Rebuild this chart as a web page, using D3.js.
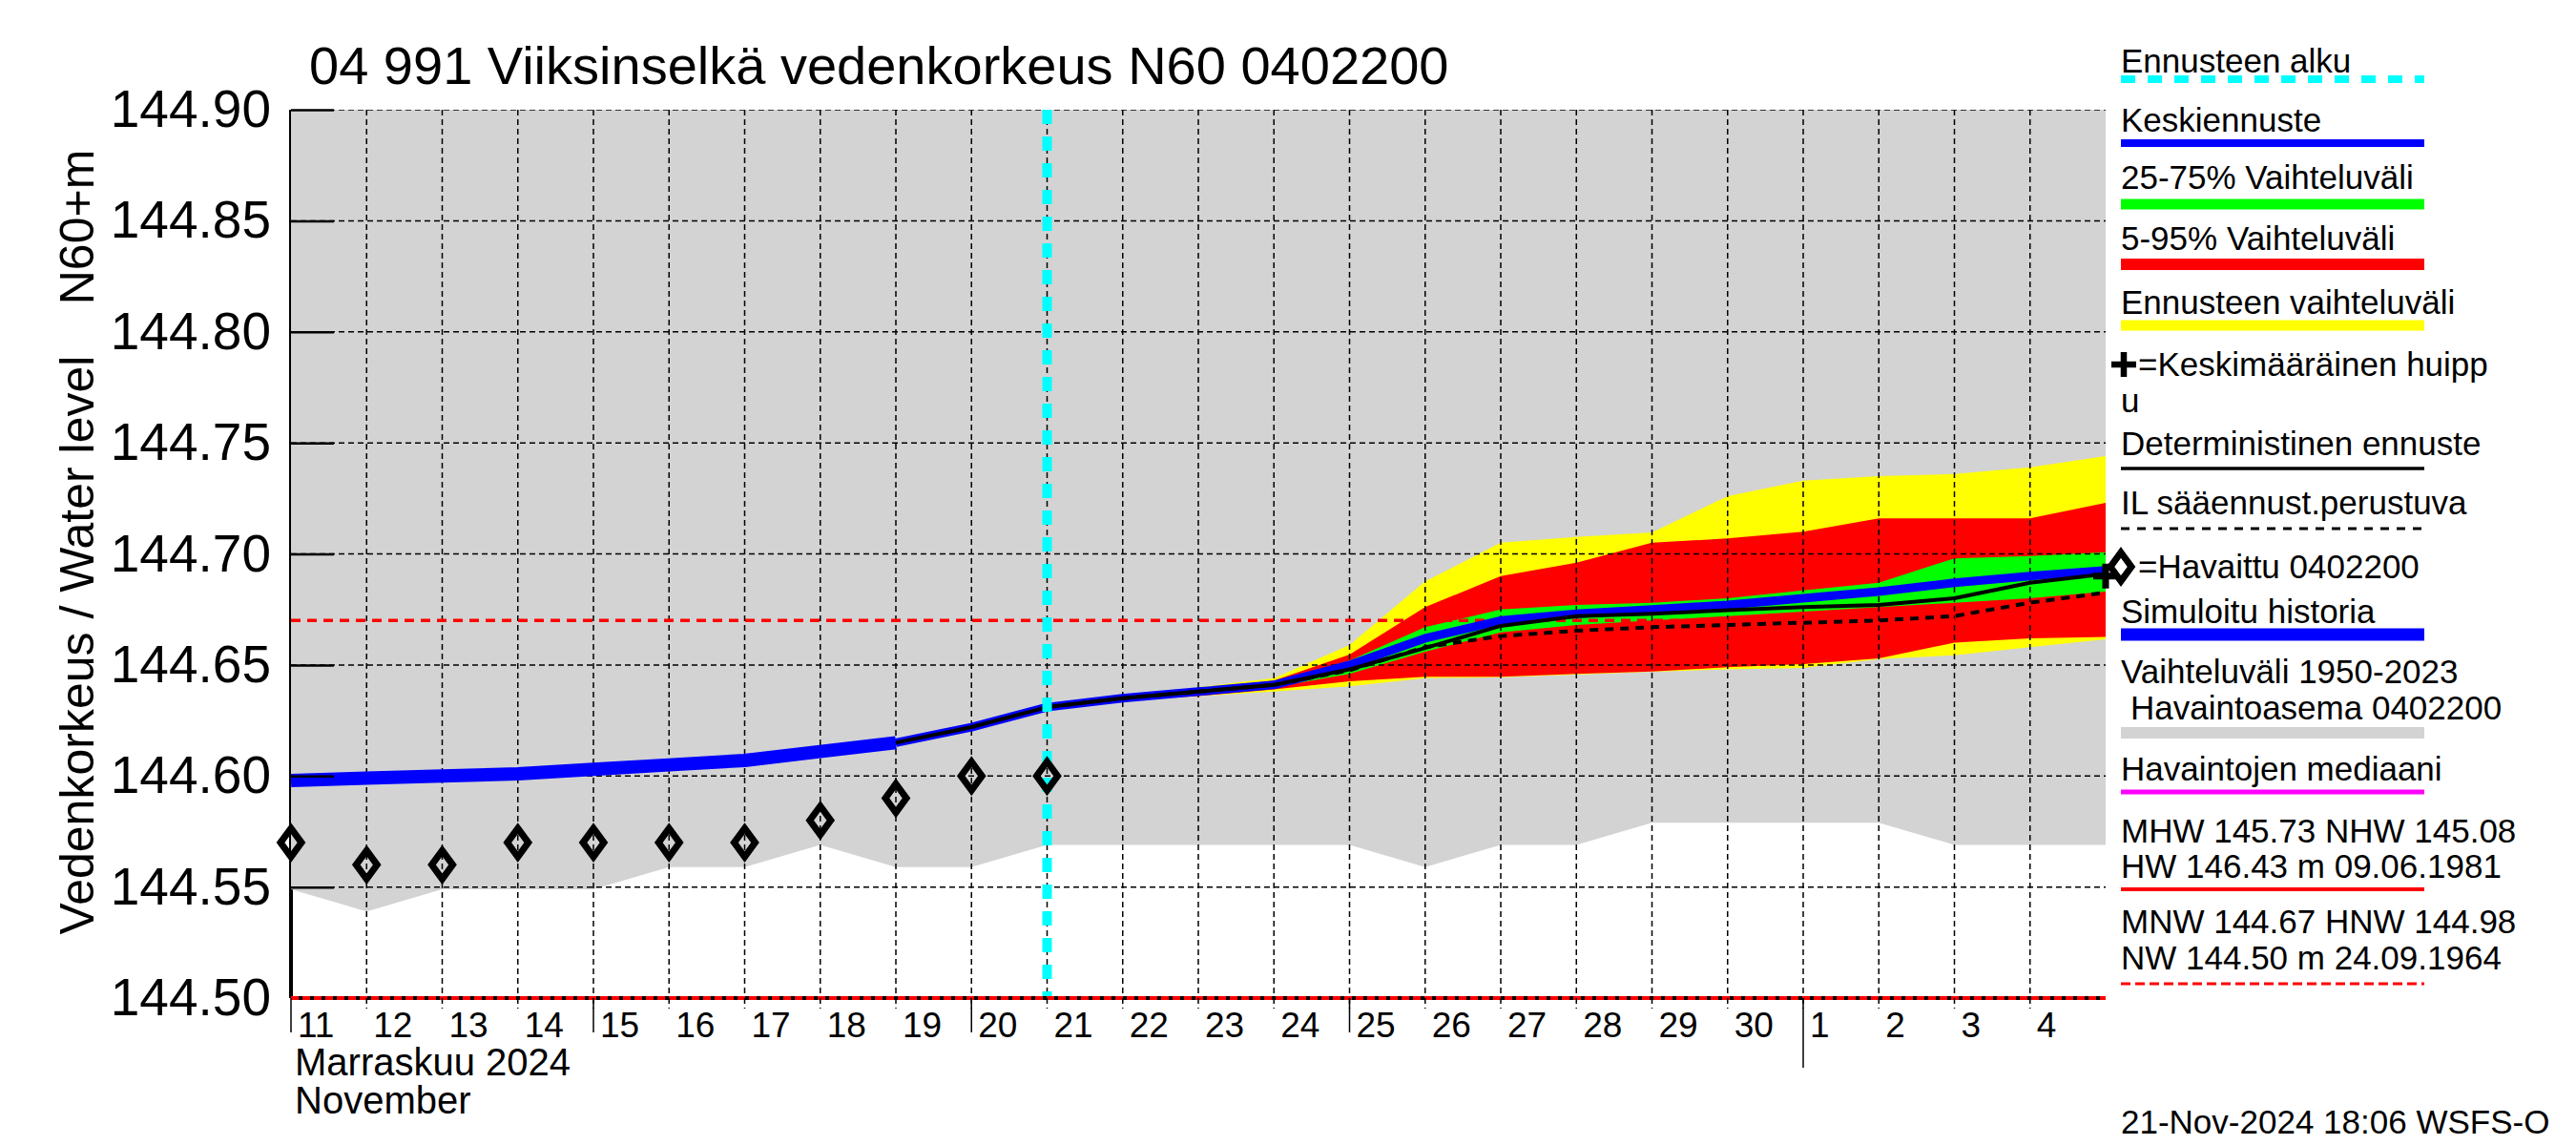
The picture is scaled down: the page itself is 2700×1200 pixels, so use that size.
<!DOCTYPE html>
<html>
<head>
<meta charset="utf-8">
<script src="https://cdn.jsdelivr.net/npm/d3@7"></script>
<style>
  body { margin: 0; background: #fff; }
  svg { display: block; font-family: "Liberation Sans", Arial, Helvetica, sans-serif; }
</style>
</head>
<body>
<div id="chart"></div>
<script>
// observed level (diamonds), one per day
var obsDays = ["2024-11-11", "2024-11-12", "2024-11-13", "2024-11-14", "2024-11-15", "2024-11-16",
               "2024-11-17", "2024-11-18", "2024-11-19", "2024-11-20", "2024-11-21"];
var obsLevel = [144.57, 144.56, 144.56, 144.57, 144.57, 144.57, 144.57, 144.58, 144.59, 144.60, 144.60];

// simulated history (thick blue)
var simDays = ["2024-11-11", "2024-11-12", "2024-11-13", "2024-11-14", "2024-11-15", "2024-11-16",
               "2024-11-17", "2024-11-18", "2024-11-19"];
var simLevel = [144.598, 144.599, 144.600, 144.601, 144.603, 144.605, 144.607, 144.611, 144.615];

// forecast days
var fcDays = ["2024-11-21", "2024-11-22", "2024-11-23", "2024-11-24", "2024-11-25", "2024-11-26",
              "2024-11-27", "2024-11-28", "2024-11-29", "2024-11-30", "2024-12-01", "2024-12-02",
              "2024-12-03", "2024-12-04", "2024-12-05"];
var medDays = ["2024-11-19", "2024-11-20"].concat(fcDays);

var medLevel = [144.615, 144.622, 144.631, 144.635, 144.638, 144.641, 144.650, 144.662, 144.670,
                144.673, 144.675, 144.677, 144.680, 144.683, 144.687, 144.690, 144.6926];
var detLevel = [144.615, 144.622, 144.631, 144.635, 144.638, 144.641, 144.648, 144.6576, 144.6676,
                144.672, 144.673, 144.6747, 144.676, 144.677, 144.680, 144.687, 144.691];
var ilLevel = [144.631, 144.635, 144.638, 144.641, 144.6476, 144.658, 144.663, 144.6654, 144.667,
               144.668, 144.669, 144.670, 144.672, 144.678, 144.6826];

var yellowHi = [144.631, 144.636, 144.640, 144.644, 144.659, 144.6876, 144.705, 144.7076, 144.7097,
                144.726, 144.733, 144.735, 144.736, 144.739, 144.744];
var redHi = [144.631, 144.6355, 144.639, 144.643, 144.6547, 144.676, 144.690, 144.696, 144.705,
             144.707, 144.710, 144.716, 144.716, 144.716, 144.723];
var greenHi = [144.631, 144.635, 144.638, 144.642, 144.652, 144.667, 144.675, 144.677, 144.678,
               144.680, 144.6836, 144.687, 144.698, 144.699, 144.7007];
var greenLo = [144.631, 144.6345, 144.637, 144.640, 144.646, 144.656, 144.6647, 144.668, 144.670,
               144.672, 144.674, 144.676, 144.678, 144.680, 144.683];
var redLo = [144.631, 144.634, 144.636, 144.639, 144.6426, 144.6447, 144.6447, 144.646, 144.647,
             144.649, 144.6504, 144.653, 144.660, 144.662, 144.6626];
var yellowLo = [144.631, 144.634, 144.636, 144.638, 144.6404, 144.644, 144.6445, 144.6457, 144.6469,
                144.648, 144.6487, 144.6526, 144.6544, 144.658, 144.6616];

// 1950-2023 range, lower edge (upper edge is above the chart)
var histDays = ["2024-11-11", "2024-11-12", "2024-11-13", "2024-11-14", "2024-11-15", "2024-11-16",
                "2024-11-17", "2024-11-18", "2024-11-19", "2024-11-20", "2024-11-21", "2024-11-22",
                "2024-11-23", "2024-11-24", "2024-11-25", "2024-11-26", "2024-11-27", "2024-11-28",
                "2024-11-29", "2024-11-30", "2024-12-01", "2024-12-02", "2024-12-03", "2024-12-04",
                "2024-12-05"];
var histLow = [144.549, 144.539, 144.549, 144.549, 144.549, 144.559, 144.559, 144.569, 144.559,
               144.559, 144.569, 144.569, 144.569, 144.569, 144.569, 144.559, 144.569, 144.569,
               144.579, 144.579, 144.579, 144.579, 144.569, 144.569, 144.569];

var peakDay = "2024-12-05", peakLevel = 144.690;
var forecastStart = "2024-11-21";
var mnwLevel = 144.67, nwLevel = 144.50;

var yTicks = [144.50, 144.55, 144.60, 144.65, 144.70, 144.75, 144.80, 144.85, 144.90];
var longTickDays = [11, 15, 20, 25];

var W = 2700, H = 1200;
var plot = {left: 305, right: 2207, top: 115, bottom: 1046};
var parse = d3.utcParse("%Y-%m-%d");

var x = d3.scaleUtc()
  .domain([parse("2024-11-11"), parse("2024-12-05")])
  .range([plot.left, plot.right]);
var y = d3.scaleLinear()
  .domain([144.50, 144.90])
  .range([plot.bottom, plot.top]);

var zip = (days, vals) => days.map((d, i) => ({t: parse(d), v: vals[i]}));
var zipBand = (days, lo, hi) => days.map((d, i) => ({t: parse(d), lo: lo[i], hi: hi[i]}));

var svg = d3.select("#chart").append("svg")
  .attr("width", W)
  .attr("height", H);
svg.append("rect").attr("width", W).attr("height", H).attr("fill", "#fff");

svg.append("defs").append("clipPath").attr("id", "plotclip")
  .append("rect")
    .attr("x", plot.left).attr("y", plot.top)
    .attr("width", plot.right - plot.left).attr("height", plot.bottom - plot.top);

// left axis line, mostly hidden under the grey range
svg.append("line")
  .attr("x1", plot.left).attr("x2", plot.left)
  .attr("y1", plot.top).attr("y2", plot.bottom)
  .attr("stroke", "#000").attr("stroke-width", 4);

var g = svg.append("g").attr("clip-path", "url(#plotclip)");

// grey historical range
g.append("path")
  .datum(zip(histDays, histLow))
  .attr("fill", "#d3d3d3")
  .attr("d", d3.area().x(d => x(d.t)).y0(d => y(d.v)).y1(plot.top));

// forecast bands
var band = d3.area().x(d => x(d.t)).y0(d => y(d.lo)).y1(d => y(d.hi));
[[yellowLo, yellowHi, "#ffff00"], [redLo, redHi, "#ff0000"], [greenLo, greenHi, "#00ff00"]]
  .forEach(function(b) {
    g.append("path")
      .datum(zipBand(fcDays, b[0], b[1]))
      .attr("fill", b[2])
      .attr("d", band);
  });

// grid
var gridDays = d3.utcDay.range(parse("2024-11-12"), parse("2024-12-05"));
g.selectAll(".vgrid")
  .data(gridDays)
  .enter().append("line")
    .attr("class", "vgrid")
    .attr("x1", d => x(d)).attr("x2", d => x(d))
    .attr("y1", plot.top).attr("y2", plot.bottom)
    .attr("stroke", "#000").attr("stroke-width", 1.5).attr("stroke-dasharray", "6,4");
g.selectAll(".hgrid")
  .data(yTicks.slice(1))
  .enter().append("line")
    .attr("class", "hgrid")
    .attr("x1", plot.left).attr("x2", plot.right)
    .attr("y1", d => y(d)).attr("y2", d => y(d))
    .attr("stroke", "#000").attr("stroke-width", 1.5).attr("stroke-dasharray", "6,4");

// MNW line
g.append("line")
  .attr("x1", plot.left).attr("x2", plot.right)
  .attr("y1", y(mnwLevel)).attr("y2", y(mnwLevel))
  .attr("stroke", "#ff0000").attr("stroke-width", 3.5).attr("stroke-dasharray", "10,7");

// y axis: inward ticks, labels on the left
var yAxis = d3.axisLeft(y)
  .tickValues(yTicks)
  .tickFormat(d3.format(".2f"))
  .tickSizeInner(-45)
  .tickSizeOuter(0)
  .tickPadding(21);
var yAxisG = svg.append("g")
  .attr("transform", `translate(${plot.left},0)`)
  .call(yAxis);
yAxisG.select(".domain").remove();
yAxisG.selectAll("line").attr("stroke", "#000").attr("stroke-width", 2.5);
yAxisG.selectAll("text")
  .attr("font-size", 55).attr("font-family", null).attr("fill", "#000");

// lines
var line = d3.line().x(d => x(d.t)).y(d => y(d.v));
g.append("path")
  .datum(zip(simDays, simLevel))
  .attr("fill", "none").attr("stroke", "#0000ff").attr("stroke-width", 14)
  .attr("stroke-linejoin", "round").attr("stroke-linecap", "butt")
  .attr("d", line);
g.append("path")
  .datum(zip(medDays, medLevel))
  .attr("fill", "none").attr("stroke", "#0000ff").attr("stroke-width", 9)
  .attr("stroke-linejoin", "round")
  .attr("d", line);
g.append("path")
  .datum(zip(fcDays, ilLevel))
  .attr("fill", "none").attr("stroke", "#000").attr("stroke-width", 4)
  .attr("stroke-dasharray", "9,7")
  .attr("d", line);
g.append("path")
  .datum(zip(medDays, detLevel))
  .attr("fill", "none").attr("stroke", "#000").attr("stroke-width", 4)
  .attr("stroke-linejoin", "round")
  .attr("d", line);

// bottom axis
svg.append("line")
  .attr("x1", plot.left).attr("x2", plot.right)
  .attr("y1", plot.bottom).attr("y2", plot.bottom)
  .attr("stroke", "#000").attr("stroke-width", 4);
svg.append("line")
  .attr("x1", plot.left).attr("x2", plot.right)
  .attr("y1", y(nwLevel)).attr("y2", y(nwLevel))
  .attr("stroke", "#ff0000").attr("stroke-width", 4).attr("stroke-dasharray", "8,4");

var axisDays = d3.utcDay.range(parse("2024-11-11"), parse("2024-12-05"));
var xt = svg.append("g").attr("class", "xticks");
xt.selectAll(".tshort")
  .data(axisDays.slice(1))
  .enter().append("line")
    .attr("x1", d => x(d)).attr("x2", d => x(d))
    .attr("y1", plot.bottom).attr("y2", plot.bottom + 11)
    .attr("stroke", "#000").attr("stroke-width", 1.5).attr("stroke-dasharray", "6,4");
xt.selectAll(".tlong")
  .data(axisDays.filter(d => longTickDays.indexOf(d.getUTCDate()) >= 0))
  .enter().append("line")
    .attr("x1", d => x(d)).attr("x2", d => x(d))
    .attr("y1", plot.bottom).attr("y2", plot.bottom + 36)
    .attr("stroke", "#000").attr("stroke-width", 1.5);
xt.selectAll(".tmonth")
  .data(axisDays.filter(d => d.getUTCDate() === 1))
  .enter().append("line")
    .attr("x1", d => x(d)).attr("x2", d => x(d))
    .attr("y1", plot.bottom).attr("y2", plot.bottom + 73)
    .attr("stroke", "#000").attr("stroke-width", 1.5);
xt.selectAll("text")
  .data(axisDays)
  .enter().append("text")
    .attr("x", d => x(d) + 7)
    .attr("y", 1087)
    .attr("font-size", 37)
    .text(d3.utcFormat("%-d"));

svg.append("text").attr("x", 309).attr("y", 1127).attr("font-size", 40).text("Marraskuu 2024");
svg.append("text").attr("x", 309).attr("y", 1167).attr("font-size", 40).text("November");

// forecast start
g.append("line")
  .attr("x1", x(parse(forecastStart))).attr("x2", x(parse(forecastStart)))
  .attr("y1", plot.top).attr("y2", plot.bottom)
  .attr("stroke", "#00ffff").attr("stroke-width", 10).attr("stroke-dasharray", "15,13");

// observations
var diamond = "M0,-15L11,0L0,15L-11,0Z";
var plus = "M-13,0H13M0,-13V13";
svg.selectAll(".obs")
  .data(zip(obsDays, obsLevel))
  .enter().append("path")
    .attr("class", "obs")
    .attr("transform", d => `translate(${x(d.t)},${y(d.v)})`)
    .attr("d", diamond)
    .attr("fill", "none").attr("stroke", "#000").attr("stroke-width", 7);

svg.append("path")
  .attr("transform", `translate(${x(parse(peakDay))},${y(peakLevel)})`)
  .attr("d", plus)
  .attr("fill", "none").attr("stroke", "#000").attr("stroke-width", 7);

// title and axis titles
svg.append("text").attr("x", 324).attr("y", 88).attr("font-size", 56)
  .text("04 991 Viiksinselkä vedenkorkeus N60 0402200");
svg.append("text")
  .attr("transform", "translate(98,676) rotate(-90)")
  .attr("text-anchor", "middle").attr("font-size", 50)
  .text("Vedenkorkeus / Water level");
svg.append("text")
  .attr("transform", "translate(98,238) rotate(-90)")
  .attr("text-anchor", "middle").attr("font-size", 50)
  .text("N60+m");

// legend
var lx = 2223, lx2 = 2541;
var leg = svg.append("g").attr("font-size", 35);
var legText = function(t, xx, yy) {
  leg.append("text").attr("x", xx).attr("y", yy).text(t);
};
var legLine = function(yy, color, width, dash) {
  leg.append("line")
    .attr("x1", lx).attr("x2", lx2).attr("y1", yy).attr("y2", yy)
    .attr("stroke", color).attr("stroke-width", width)
    .attr("stroke-dasharray", dash || null);
};

legText("Ennusteen alku", lx, 76);
legLine(83, "#00ffff", 8, "15,13");
legText("Keskiennuste", lx, 138);
legLine(150, "#0000ff", 8);
legText("25-75% Vaihteluväli", lx, 198);
legLine(214, "#00ff00", 11);
legText("5-95% Vaihteluväli", lx, 262);
legLine(277, "#ff0000", 12);
legText("Ennusteen vaihteluväli", lx, 329);
legLine(341, "#ffff00", 11);
leg.append("path").attr("transform", "translate(2226,382)").attr("d", plus)
  .attr("fill", "none").attr("stroke", "#000").attr("stroke-width", 6.5);
legText("=Keskimääräinen huipp", 2241, 394);
legText("u", lx, 432);
legText("Deterministinen ennuste", lx, 477);
legLine(491, "#000", 3.5);
legText("IL sääennust.perustuva", lx, 539);
legLine(554, "#000", 3, "9,8");
leg.append("path").attr("transform", "translate(2223,594)").attr("d", diamond)
  .attr("fill", "none").attr("stroke", "#000").attr("stroke-width", 7);
legText("=Havaittu 0402200", 2241, 606);
legText("Simuloitu historia", lx, 653);
legLine(665, "#0000ff", 13);
legText("Vaihteluväli 1950-2023", lx, 716);
legText("Havaintoasema 0402200", lx + 10, 754);
legLine(768, "#d3d3d3", 12);
legText("Havaintojen mediaani", lx, 818);
legLine(830, "#ff00ff", 5);
legText("MHW 145.73 NHW 145.08", lx, 883);
legText("HW 146.43 m 09.06.1981", lx, 920);
legLine(932, "#ff0000", 4);
legText("MNW 144.67 HNW 144.98", lx, 978);
legText("NW 144.50 m 24.09.1964", lx, 1016);
legLine(1031, "#ff0000", 3, "10,5");
legText("21-Nov-2024 18:06 WSFS-O", lx, 1188);
</script>
</body>
</html>
